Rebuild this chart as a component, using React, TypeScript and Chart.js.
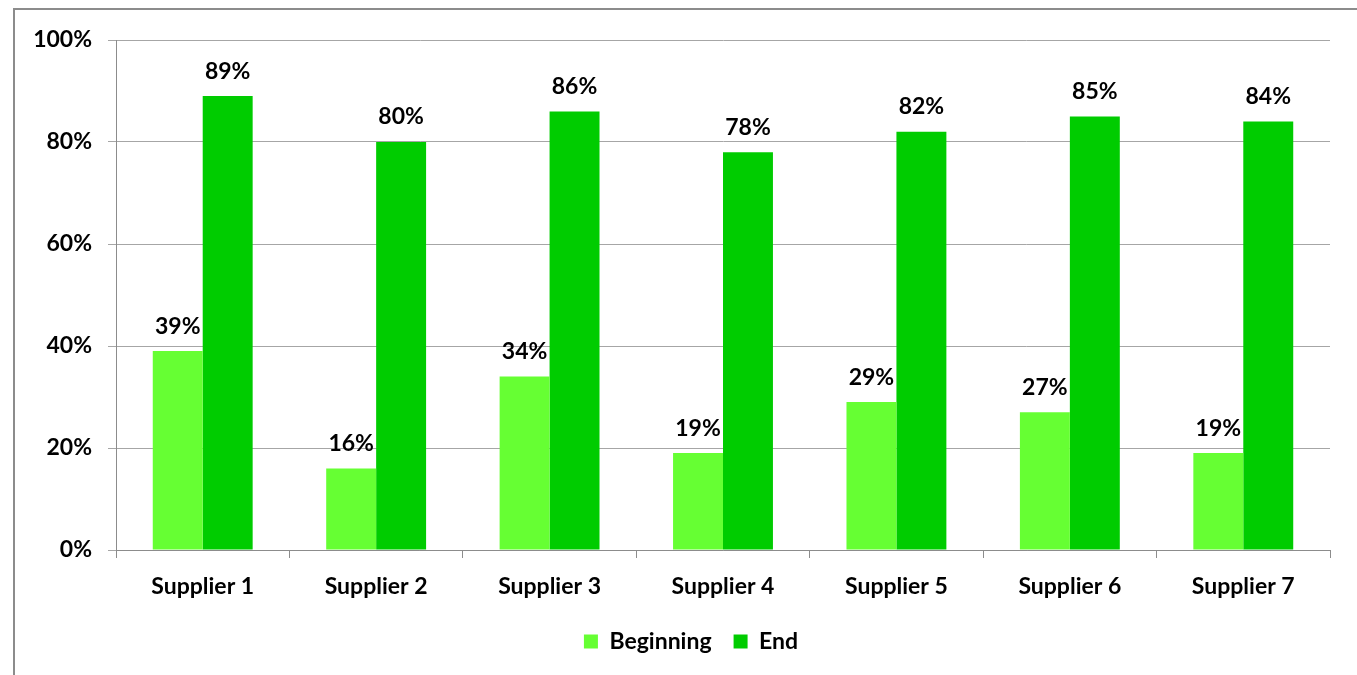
import React, { useEffect, useRef } from "react";
import { Chart, registerables } from "chart.js";

Chart.register(...registerables);

const suppliers = [
  "Supplier 1",
  "Supplier 2",
  "Supplier 3",
  "Supplier 4",
  "Supplier 5",
  "Supplier 6",
  "Supplier 7",
];
const beginning = [39, 16, 34, 19, 29, 27, 19];
const end = [89, 80, 86, 78, 82, 85, 84];
const yTicks = [0, 20, 40, 60, 80, 100];

const FONT = "Lato, 'Open Sans', sans-serif";
const FSIZE = 23;

// writes the value above each bar, like Excel's data labels
const valueLabels = {
  id: "valueLabels",
  afterDatasetsDraw(chart: any) {
    const ctx = chart.ctx;
    ctx.save();
    ctx.font = `bold ${FSIZE}px ${FONT}`;
    ctx.fillStyle = "#000";
    ctx.textAlign = "center";
    ctx.textBaseline = "middle";
    chart.data.datasets.forEach((ds: any, i: number) => {
      chart.getDatasetMeta(i).data.forEach((bar: any, j: number) => {
        ctx.fillText(ds.data[j] + "%", bar.x, bar.y - 25);
      });
    });
    ctx.restore();
  },
};

// Excel centres the legend under the plot area, not the whole canvas
const legendShift = {
  id: "legendShift",
  afterLayout(chart: any) {
    if (chart.legend) chart.legend.left += 36;
  },
};

export default function App() {
  const canvasRef = useRef<HTMLCanvasElement | null>(null);
  const chartRef = useRef<Chart | null>(null);

  useEffect(() => {
    document.body.style.margin = "0";
    document.body.style.overflow = "hidden";
    const ctx = canvasRef.current?.getContext("2d");
    if (!ctx) return;
    if (chartRef.current) chartRef.current.destroy();

    chartRef.current = new Chart(ctx, {
      type: "bar",
      data: {
        labels: suppliers,
        datasets: [
          {
            label: "Beginning",
            data: beginning,
            backgroundColor: "#66ff33",
            barPercentage: 1,
            categoryPercentage: 0.576,
          },
          {
            label: "End",
            data: end,
            backgroundColor: "#00cc00",
            barPercentage: 1,
            categoryPercentage: 0.576,
          },
        ],
      },
      options: {
        responsive: false,
        animation: false,
        devicePixelRatio: 1,
        layout: { padding: { left: 16, right: 27, top: 40, bottom: 12 } },
        scales: {
          x: {
            grid: {
              drawOnChartArea: false,
              drawTicks: true,
              tickLength: 8,
              color: "#8c8c8c",
            },
            border: { color: "#8c8c8c" },
            ticks: {
              color: "#000",
              padding: 15,
              maxRotation: 0,
              font: { family: FONT, size: FSIZE, weight: "bold" },
            },
            afterFit: (scale: any) => {
              scale.height = 58;
            },
          },
          y: {
            min: 0,
            max: 100,
            afterBuildTicks: (scale: any) => {
              scale.ticks = yTicks.map((v) => ({ value: v }));
            },
            grid: { color: "#a6a6a6", tickLength: 8 },
            border: { color: "#8c8c8c" },
            ticks: {
              color: "#000",
              padding: 16,
              font: { family: FONT, size: FSIZE, weight: "bold" },
              callback: (v: any) => v + "%",
            },
            afterFit: (scale: any) => {
              scale.width = 100;
            },
          },
        },
        plugins: {
          legend: {
            position: "bottom",
            labels: {
              color: "#000",
              boxWidth: 14,
              boxHeight: 14,
              padding: 22,
              font: { family: FONT, size: FSIZE, weight: "bold" },
            },
          },
          tooltip: { enabled: false },
        },
      },
      plugins: [valueLabels, legendShift],
    });

    return () => {
      if (chartRef.current) {
        chartRef.current.destroy();
        chartRef.current = null;
      }
    };
  }, []);

  return (
    <div style={{ position: "fixed", left: 0, top: 0, width: 1357, height: 675, background: "#fff" }}>
      <div
        style={{
          position: "absolute",
          left: 13,
          top: 8,
          width: 1357 - 13,
          height: 675 - 8,
          borderLeft: "2px solid #8c8c8c",
          borderTop: "2px solid #8c8c8c",
          boxSizing: "border-box",
        }}
      />
      <canvas
        ref={canvasRef}
        width={1357}
        height={675}
        style={{ position: "absolute", left: 0, top: 0 }}
      ></canvas>
    </div>
  );
}
